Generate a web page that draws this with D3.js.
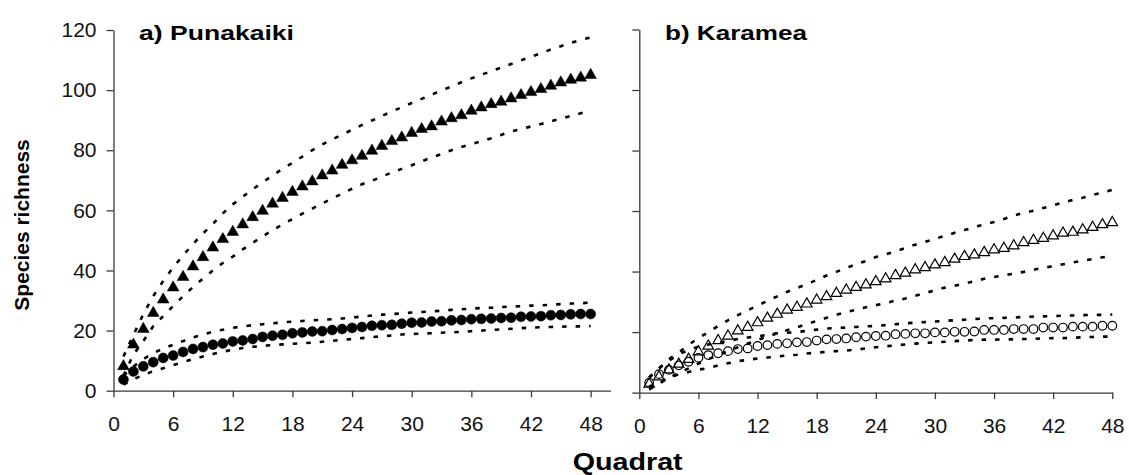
<!DOCTYPE html>
<html>
<head>
<meta charset="utf-8">
<script src="https://cdn.jsdelivr.net/npm/d3@7"></script>
<style>
  html, body { margin: 0; padding: 0; background: #fff; }
  svg { display: block; font-family: "Liberation Sans", Arial, sans-serif; }
</style>
</head>
<body>
<svg id="chart" width="1129" height="475"></svg>
<script>
// Species accumulation curves (mean and 95% bounds) per quadrat
const quadrats = d3.range(1, 49);
const xTicks = [0, 6, 12, 18, 24, 30, 36, 42, 48];
const yTicks = [0, 20, 40, 60, 80, 100, 120];

// a) Punakaiki — filled triangles
const punaTri = [8.1, 15.3, 20.5, 25.8, 30.3, 34.3, 37.8, 41.3, 44.4, 47.6,
  50.4, 52.8, 55.3, 57.7, 59.8, 62.2, 64.1, 66.1, 67.9, 69.6,
  71.6, 73.2, 75.1, 76.6, 78.1, 79.8, 81.4, 83.0, 84.2, 85.7,
  87.0, 87.9, 89.5, 90.6, 91.6, 93.1, 94.2, 95.3, 96.1, 97.2,
  98.3, 99.3, 100.3, 101.4, 102.5, 103.4, 104.1, 105.0];
const punaTriUpper = [11.4, 18.5, 25.5, 31.5, 36.5, 41.0, 45.0, 48.8, 52.3, 55.5,
  59.0, 62.0, 64.5, 67.0, 69.3, 71.6, 73.8, 75.8, 77.9, 80.0,
  81.9, 83.6, 85.2, 86.8, 88.4, 89.9, 91.4, 92.9, 94.3, 95.7,
  97.1, 98.5, 99.9, 101.2, 102.6, 103.9, 105.1, 106.3, 107.5, 108.7,
  109.9, 111.1, 112.3, 113.5, 114.6, 115.7, 116.7, 117.5];
const punaTriLower = [5.0, 12.0, 16.5, 21.5, 24.8, 28.2, 31.4, 34.5, 37.3, 40.0,
  42.5, 44.6, 47.0, 49.2, 51.3, 53.4, 55.3, 57.1, 58.9, 60.6,
  62.3, 63.9, 65.6, 67.2, 68.7, 69.8, 71.2, 72.6, 73.8, 75.0,
  76.3, 77.6, 78.7, 80.0, 81.1, 82.0, 83.0, 84.0, 85.1, 86.2,
  87.1, 87.9, 88.7, 89.6, 90.5, 91.4, 92.3, 93.1];

// a) Punakaiki — filled circles
const punaCirc = [3.7, 6.4, 8.1, 9.5, 10.9, 11.7, 12.9, 13.9, 14.5, 15.3,
  15.7, 16.4, 16.7, 17.2, 17.9, 18.3, 18.6, 19.1, 19.4, 19.7,
  19.8, 20.2, 20.5, 20.9, 21.2, 21.6, 21.8, 21.9, 22.3, 22.6,
  22.7, 23.0, 23.1, 23.4, 23.5, 23.8, 23.9, 24.0, 24.2, 24.3,
  24.6, 24.7, 24.8, 25.1, 25.2, 25.4, 25.5, 25.5];
const punaCircUpper = [5.0, 8.0, 10.5, 12.5, 14.0, 15.3, 16.5, 17.7, 18.7, 19.6,
  20.3, 20.9, 21.4, 21.8, 22.1, 22.4, 22.7, 23.0, 23.2, 23.4,
  23.6, 23.8, 24.0, 24.3, 24.7, 25.0, 25.3, 25.5, 25.7, 26.0,
  26.2, 26.4, 26.6, 26.9, 27.1, 27.3, 27.5, 27.6, 27.8, 28.0,
  28.1, 28.3, 28.4, 28.6, 28.8, 29.0, 29.1, 29.3];
const punaCircLower = [2.0, 3.8, 5.2, 6.5, 7.5, 8.5, 9.5, 10.5, 11.4, 12.2,
  13.0, 13.6, 14.2, 14.6, 14.9, 15.2, 15.4, 15.6, 15.8, 16.0,
  16.3, 16.6, 16.9, 17.2, 17.5, 17.8, 18.1, 18.4, 18.7, 18.9,
  19.0, 19.1, 19.3, 19.4, 19.6, 19.8, 20.0, 20.2, 20.4, 20.6,
  20.8, 21.0, 21.1, 21.2, 21.3, 21.4, 21.4, 21.5];

// b) Karamea — open triangles
const karaTri = [2.8, 5.2, 7.5, 9.4, 11.0, 13.5, 15.4, 17.2, 18.7, 20.4,
  21.6, 23.1, 24.6, 25.9, 27.3, 28.2, 29.3, 30.6, 31.7, 32.8,
  33.9, 34.8, 35.6, 36.7, 37.6, 38.7, 39.5, 40.6, 41.3, 42.2,
  43.0, 44.1, 45.0, 45.5, 46.3, 47.2, 47.7, 48.5, 49.6, 50.3,
  51.0, 51.8, 52.7, 53.0, 53.8, 54.6, 55.5, 56.2];
const karaTriUpper = [5.0, 8.0, 11.0, 13.2, 15.8, 18.0, 20.0, 22.0, 23.9, 25.6,
  27.2, 28.8, 30.3, 31.8, 33.3, 34.5, 35.9, 37.2, 38.7, 39.9,
  41.2, 42.4, 43.5, 44.8, 45.7, 46.7, 47.8, 48.9, 49.8, 50.8,
  51.8, 52.8, 53.7, 54.7, 55.6, 56.4, 57.4, 58.5, 59.4, 60.1,
  61.0, 61.9, 62.8, 63.7, 64.4, 65.3, 66.1, 67.0];
const karaTriLower = [1.0, 3.0, 4.8, 6.5, 8.0, 9.6, 11.0, 12.4, 13.7, 15.0,
  16.2, 17.4, 18.5, 19.6, 20.6, 21.6, 22.6, 23.7, 24.7, 25.7,
  26.6, 27.4, 28.2, 28.9, 29.6, 30.4, 31.1, 32.0, 32.9, 33.8,
  34.7, 35.3, 36.1, 36.8, 37.6, 38.2, 38.8, 39.3, 39.9, 40.6,
  41.2, 41.8, 42.4, 43.0, 43.6, 44.1, 44.7, 45.3];

// b) Karamea — open circles
const karaCirc = [3.3, 6.1, 7.5, 9.0, 10.2, 11.5, 12.4, 13.0, 13.7, 14.4,
  14.6, 15.4, 15.7, 16.1, 16.3, 16.6, 16.7, 17.2, 17.6, 17.7,
  17.9, 18.3, 18.5, 18.7, 18.8, 19.3, 19.4, 19.6, 19.6, 19.9,
  19.9, 20.1, 20.1, 20.2, 20.7, 20.7, 20.7, 21.0, 21.0, 21.0,
  21.5, 21.5, 21.5, 21.8, 21.8, 21.8, 22.1, 22.1];
const karaCircUpper = [5.0, 8.0, 10.5, 12.7, 14.0, 15.2, 15.9, 16.5, 17.1, 17.7,
  18.2, 18.6, 19.1, 19.6, 19.8, 20.0, 20.4, 20.8, 21.2, 21.3,
  21.5, 21.7, 21.9, 22.0, 22.3, 22.6, 22.9, 23.1, 23.3, 23.5,
  23.7, 23.9, 24.1, 24.3, 24.5, 24.6, 24.7, 24.8, 25.0, 25.1,
  25.2, 25.3, 25.4, 25.5, 25.6, 25.7, 25.7, 25.8];
const karaCircLower = [2.0, 3.2, 5.0, 6.0, 6.8, 7.6, 8.1, 9.0, 9.7, 10.4,
  10.8, 11.3, 11.6, 11.9, 12.3, 12.5, 12.9, 13.2, 13.5, 13.7,
  13.9, 14.2, 14.6, 15.0, 15.3, 15.6, 15.9, 16.2, 16.4, 16.6,
  16.8, 17.0, 17.2, 17.4, 17.5, 17.5, 17.6, 17.6, 17.7, 17.8,
  17.9, 18.0, 18.0, 18.1, 18.3, 18.4, 18.5, 18.5];

const svg = d3.select("#chart");
const axisColor = "#3a3a3a";

const panels = [
  {
    title: "a) Punakaiki", titleX: 139, titleLen: 155,
    x: d3.scaleLinear().domain([0, 50]).range([113.5, 610.5]),
    y: d3.scaleLinear().domain([0, 120]).range([390.7, 30]),
    labels: true, open: false,
    tri: punaTri, triBounds: [punaTriUpper, punaTriLower],
    circ: punaCirc, circBounds: [punaCircUpper, punaCircLower]
  },
  {
    title: "b) Karamea", titleX: 665, titleLen: 142,
    x: d3.scaleLinear().domain([0, 48]).range([639.3, 1112.3]),
    y: d3.scaleLinear().domain([0, 120]).range([392.6, 29.5]),
    labels: false, open: true,
    tri: karaTri, triBounds: [karaTriUpper, karaTriLower],
    circ: karaCirc, circBounds: [karaCircUpper, karaCircLower]
  }
];

panels.forEach(p => {
  const g = svg.append("g");

  // x axis
  const xAxis = g.append("g")
    .attr("transform", `translate(0,${p.y(0)})`)
    .call(d3.axisBottom(p.x).tickValues(xTicks).tickSize(6.5).tickSizeOuter(0).tickPadding(19));
  // y axis
  const yAxis = g.append("g")
    .attr("transform", `translate(${p.x(0)},0)`)
    .call(d3.axisLeft(p.y).tickValues(yTicks).tickSize(7).tickSizeOuter(0).tickPadding(10)
      .tickFormat(p.labels ? d3.format("d") : () => ""));

  [xAxis, yAxis].forEach(a => {
    a.select(".domain").attr("stroke", axisColor).attr("stroke-width", 1.3);
    a.selectAll(".tick line").attr("stroke", axisColor).attr("stroke-width", 1.3);
    a.selectAll(".tick text")
      .attr("fill", "#111")
      .style("font-family", '"Liberation Sans", Arial, sans-serif')
      .style("font-size", "21px");
  });
  xAxis.selectAll(".tick text").attr("dy", "0.7em");

  // dashed bound lines
  const line = d3.line()
    .x((d, i) => p.x(quadrats[i]))
    .y(d => p.y(d));
  [...p.triBounds, ...p.circBounds].forEach(b => {
    g.append("path")
      .datum(b)
      .attr("d", line)
      .attr("fill", "none")
      .attr("stroke", "#000")
      .attr("stroke-width", 2.6)
      .attr("stroke-dasharray", "4.5,9");
  });

  // circle markers
  g.append("g").selectAll("circle")
    .data(p.circ)
    .join("circle")
    .attr("cx", (d, i) => p.x(quadrats[i]))
    .attr("cy", d => p.y(d))
    .attr("r", p.open ? 4.3 : 5)
    .attr("fill", p.open ? "none" : "#000")
    .attr("stroke", "#000")
    .attr("stroke-width", p.open ? 1.2 : 0.5);

  // triangle markers
  const tri = d3.symbol().type(d3.symbolTriangle).size(p.open ? 48 : 60);
  g.append("g").selectAll("path")
    .data(p.tri)
    .join("path")
    .attr("d", tri)
    .attr("transform", (d, i) => `translate(${p.x(quadrats[i])},${p.y(d)})`)
    .attr("fill", p.open ? "none" : "#000")
    .attr("stroke", "#000")
    .attr("stroke-width", p.open ? 1.2 : 0.5);

  // panel title
  g.append("text")
    .attr("x", p.titleX)
    .attr("y", 40)
    .attr("font-weight", "bold")
    .attr("font-size", 21)
    .attr("textLength", p.titleLen)
    .attr("lengthAdjust", "spacingAndGlyphs")
    .attr("fill", "#000")
    .text(p.title);
});

// shared axis titles
svg.append("text")
  .attr("x", 627.7)
  .attr("y", 470)
  .attr("text-anchor", "middle")
  .attr("font-weight", "bold")
  .attr("font-size", 23.5)
  .attr("textLength", 110)
  .attr("lengthAdjust", "spacingAndGlyphs")
  .text("Quadrat");

svg.append("text")
  .attr("transform", "translate(29,225) rotate(-90)")
  .attr("text-anchor", "middle")
  .attr("font-weight", "bold")
  .attr("font-size", 21)
  .text("Species richness");
</script>
</body>
</html>
